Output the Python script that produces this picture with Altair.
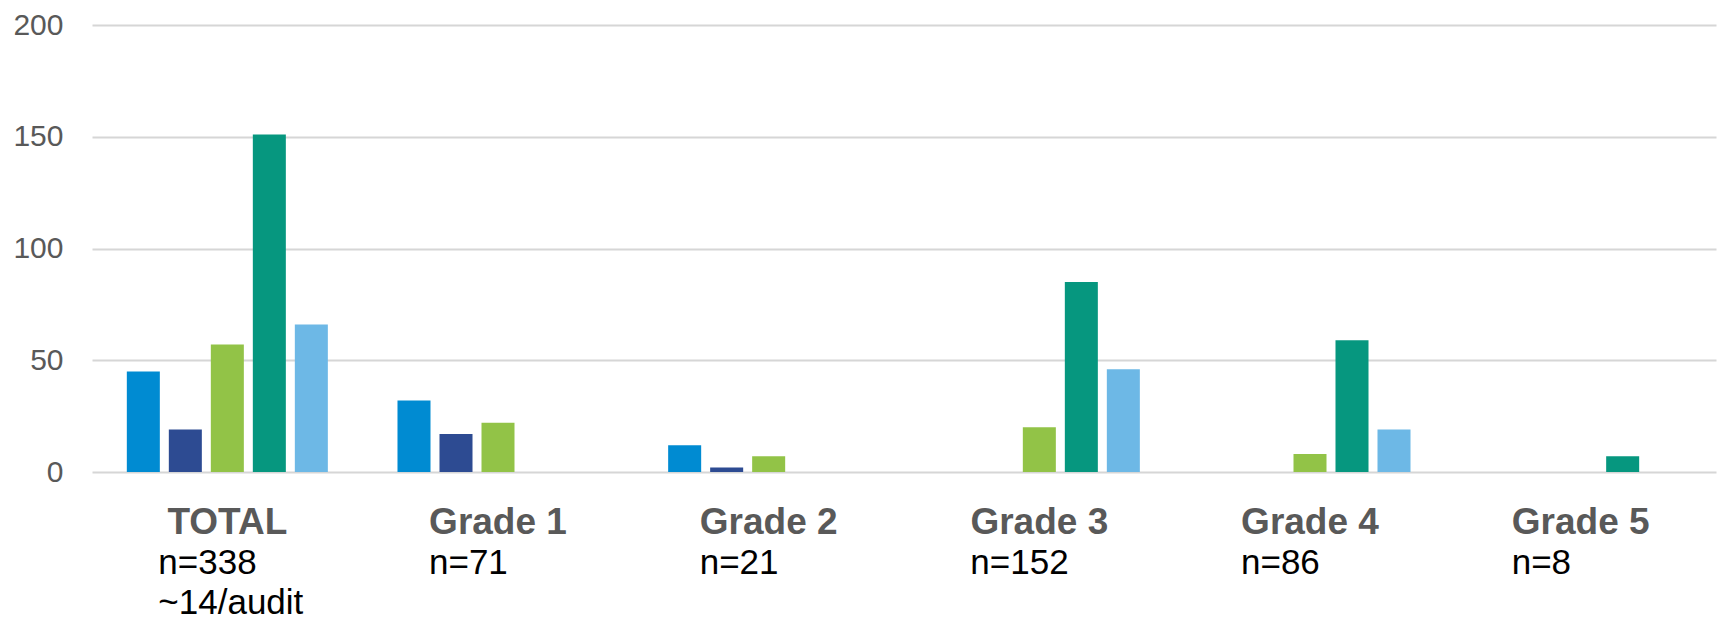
import altair as alt
import pandas as pd

categories = ["TOTAL", "Grade 1", "Grade 2", "Grade 3", "Grade 4", "Grade 5"]
series = ["Series 1", "Series 2", "Series 3", "Series 4", "Series 5"]
colors = ["#008BD2", "#2D4B92", "#92C347", "#06977F", "#6DB8E6"]

series1 = [45, 32, 12, 0, 0, 0]
series2 = [19, 17, 2, 0, 0, 0]
series3 = [57, 22, 7, 20, 8, 0]
series4 = [151, 0, 0, 85, 59, 7]
series5 = [66, 0, 0, 46, 19, 0]

n_labels = ["n=338\n~14/audit", "n=71", "n=21", "n=152", "n=86", "n=8"]

y_ticks = [0, 50, 100, 150, 200]

FONT = "Liberation Sans"

rows = []
for s, vals in zip(series, [series1, series2, series3, series4, series5]):
    for c, v in zip(categories, vals):
        rows.append({"category": c, "series": s, "value": v})
df = pd.DataFrame(rows)
ndf = pd.DataFrame({"category": categories, "label": n_labels})

x_enc = alt.X(
    "category:N",
    sort=categories,
    scale=alt.Scale(domain=categories, paddingInner=0, paddingOuter=0),
    axis=alt.Axis(
        title=None,
        labelFont=FONT,
        labelFontSize=37,
        labelFontWeight="bold",
        labelColor="#595959",
        labelAngle=0,
        ticks=False,
        tickSize=0,
        domain=False,
        grid=False,
        labelPadding=32,
    ),
)

bars = alt.Chart(df).mark_bar().encode(
    x=x_enc,
    xOffset=alt.XOffset(
        "series:N",
        sort=series,
        scale=alt.Scale(domain=series, paddingInner=0.214, paddingOuter=0.829),
    ),
    y=alt.Y(
        "value:Q",
        scale=alt.Scale(domain=[0, 200]),
        axis=alt.Axis(
            values=y_ticks,
            title=None,
            labelFont=FONT,
            labelFontSize=30,
            labelColor="#595959",
            ticks=False,
            tickSize=0,
            domain=False,
            labelPadding=29,
            gridColor="#D6D6D6",
            gridWidth=2,
        ),
    ),
    color=alt.Color("series:N", scale=alt.Scale(domain=series, range=colors), legend=None),
)

labels = alt.Chart(ndf).mark_text(
    align="left",
    baseline="alphabetic",
    dx=-69,
    dy=102,
    font=FONT,
    fontSize=35,
    color="#000000",
    lineBreak="\n",
    lineHeight=40,
).encode(
    x=x_enc,
    y=alt.datum(0),
    text="label:N",
)

chart = (
    alt.layer(bars, labels)
    .properties(
        width=1624,
        height=447,
        padding={"left": 84, "top": 17, "right": 2, "bottom": 151},
        autosize=alt.AutoSizeParams(type="none"),
        background="white",
    )
    .configure_view(stroke=None)
)

chart.save("out.html", embed_options={"renderer": "svg", "actions": False})
